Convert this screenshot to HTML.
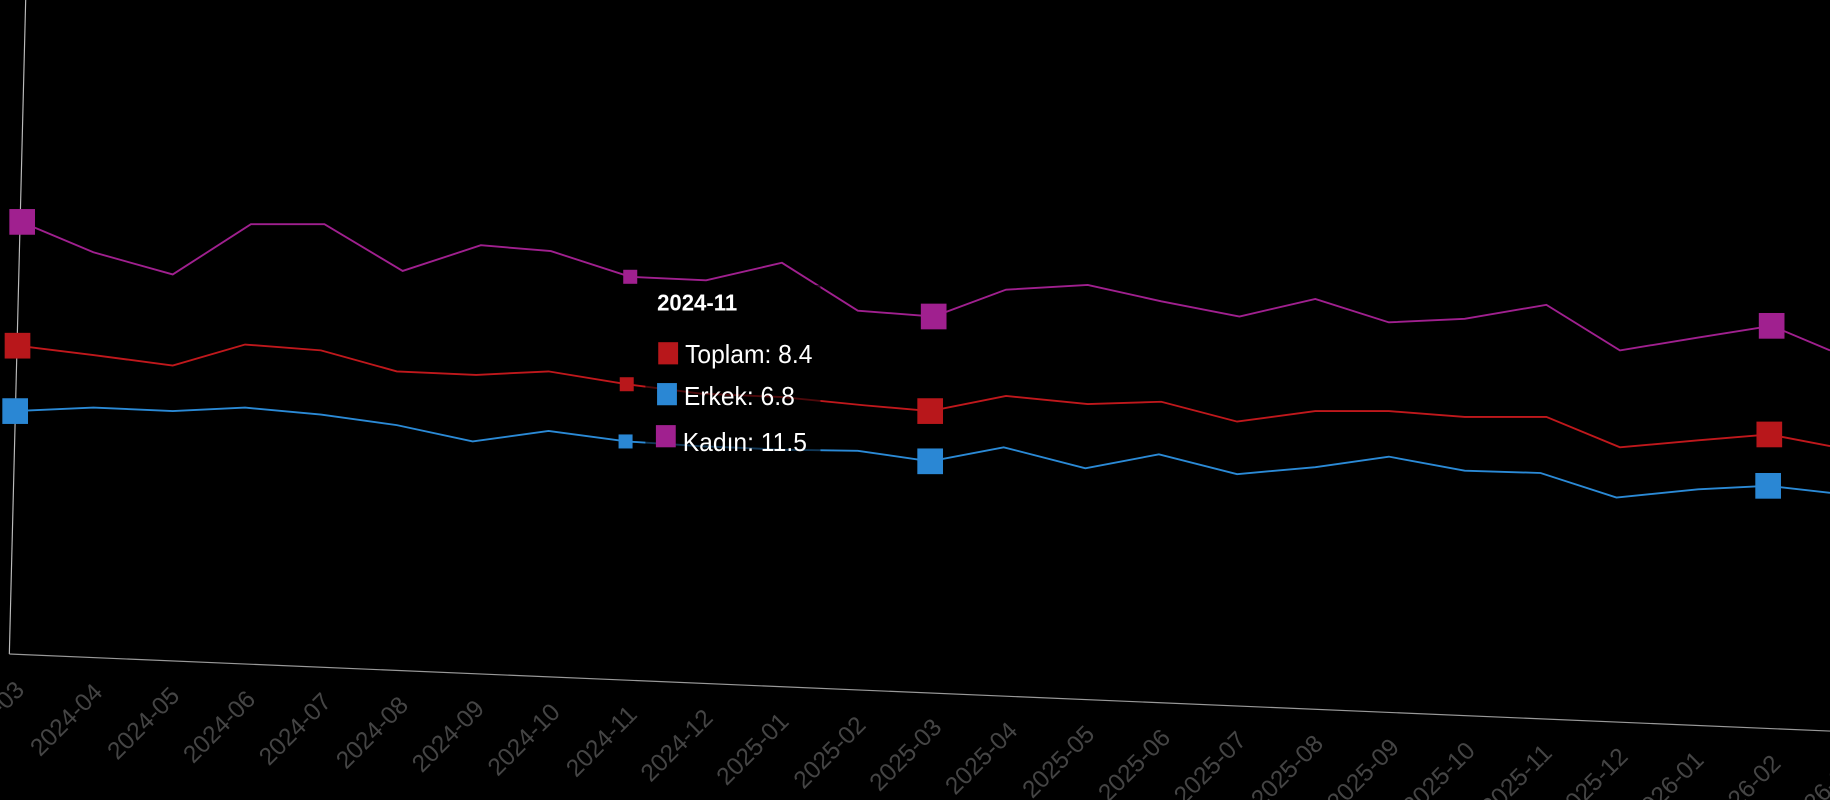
<!DOCTYPE html>
<html><head><meta charset="utf-8"><style>
html,body{margin:0;padding:0;background:#000;overflow:hidden}
svg{display:block}
</style></head><body>
<svg width="1830" height="800" viewBox="0 0 1568 685" preserveAspectRatio="none" xmlns="http://www.w3.org/2000/svg">
<rect width="1568" height="685" fill="#000"/>
<line x1="22" y1="0" x2="8" y2="560" stroke="#bbb" stroke-width="1"/>
<line x1="8" y1="560" x2="1568" y2="626" stroke="#999" stroke-width="1"/>
<polyline fill="none" stroke="#a0208f" stroke-width="1.6" points="18,190 80,216 148,235 215,192 278,192 345,232 412,210 472,215 540,237 605,240 670,225 735,266 800,271 862,248 932,244 995,258 1062,271 1127,256 1190,276 1255,273 1325,261 1388,300 1455,289 1518,279 1568,300"/>
<polyline fill="none" stroke="#c0181c" stroke-width="1.6" points="15,296 80,304 148,313 210,295 275,300 340,318 408,321 470,318 537,329 600,337 670,340 740,347 797,352 862,339 932,346 995,344 1060,361 1127,352 1190,352 1255,357 1325,357 1388,383 1455,377 1516,372 1568,382"/>
<polyline fill="none" stroke="#2b8ad6" stroke-width="1.6" points="13,352 80,349 148,352 210,349 275,355 340,364 405,378 470,369 537,378 600,382 670,385 735,386 797,395 860,383 930,401 993,389 1060,406 1127,400 1190,391 1255,403 1320,405 1385,426 1455,419 1515,416 1568,422"/>
<g fill="#a0208f"><rect x="8" y="179" width="22" height="22"/><rect x="789" y="260" width="22" height="22"/><rect x="1507" y="268" width="22" height="22"/><rect x="534" y="231" width="12" height="12"/></g>
<g fill="#b8171b"><rect x="4" y="285" width="22" height="22"/><rect x="786" y="341" width="22" height="22"/><rect x="1505" y="361" width="22" height="22"/><rect x="531" y="323" width="12" height="12"/></g>
<g fill="#2a87d4"><rect x="2" y="341" width="22" height="22"/><rect x="786" y="384" width="22" height="22"/><rect x="1504" y="405" width="22" height="22"/><rect x="530" y="372" width="12" height="12"/></g>
<rect x="553" y="244" width="150" height="148" fill="#000" opacity="0.6"/>
<g font-family="Liberation Sans, sans-serif" fill="#fff">
<text x="563" y="266" font-size="20" font-weight="bold" transform="translate(563,0) scale(0.95,1) translate(-563,0)">2024-11</text>
<rect x="564" y="293" width="17" height="19" fill="#b8171b"/>
<text x="587" y="311" font-size="22" transform="translate(587,0) scale(0.96,1) translate(-587,0)">Toplam: 8.4</text>
<rect x="563" y="328" width="17" height="19" fill="#2a87d4"/>
<text x="586" y="347" font-size="22" transform="translate(586,0) scale(0.96,1) translate(-586,0)">Erkek: 6.8</text>
<rect x="562" y="364" width="17" height="19" fill="#a0208f"/>
<text x="585" y="386" font-size="22" transform="translate(585,0) scale(0.96,1) translate(-585,0)">Kadın: 11.5</text>
</g>
<g font-family="Liberation Sans, sans-serif" font-size="21" fill="#454545" text-anchor="end">
<text transform="translate(22,592) rotate(-45)">2024-03</text>
<text transform="translate(89,594) rotate(-45)">2024-04</text>
<text transform="translate(155,597) rotate(-45)">2024-05</text>
<text transform="translate(220,600) rotate(-45)">2024-06</text>
<text transform="translate(285,602) rotate(-45)">2024-07</text>
<text transform="translate(351,605) rotate(-45)">2024-08</text>
<text transform="translate(416,608) rotate(-45)">2024-09</text>
<text transform="translate(481,611) rotate(-45)">2024-10</text>
<text transform="translate(547,613) rotate(-45)">2024-11</text>
<text transform="translate(612,616) rotate(-45)">2024-12</text>
<text transform="translate(677,619) rotate(-45)">2025-01</text>
<text transform="translate(743,622) rotate(-45)">2025-02</text>
<text transform="translate(808,624) rotate(-45)">2025-03</text>
<text transform="translate(873,627) rotate(-45)">2025-04</text>
<text transform="translate(939,630) rotate(-45)">2025-05</text>
<text transform="translate(1004,633) rotate(-45)">2025-06</text>
<text transform="translate(1069,635) rotate(-45)">2025-07</text>
<text transform="translate(1135,638) rotate(-45)">2025-08</text>
<text transform="translate(1200,641) rotate(-45)">2025-09</text>
<text transform="translate(1265,644) rotate(-45)">2025-10</text>
<text transform="translate(1331,646) rotate(-45)">2025-11</text>
<text transform="translate(1396,649) rotate(-45)">2025-12</text>
<text transform="translate(1461,652) rotate(-45)">2026-01</text>
<text transform="translate(1527,655) rotate(-45)">2026-02</text>
<text transform="translate(1592,658) rotate(-45)">2026-03</text>
</g>
</svg>
</body></html>
